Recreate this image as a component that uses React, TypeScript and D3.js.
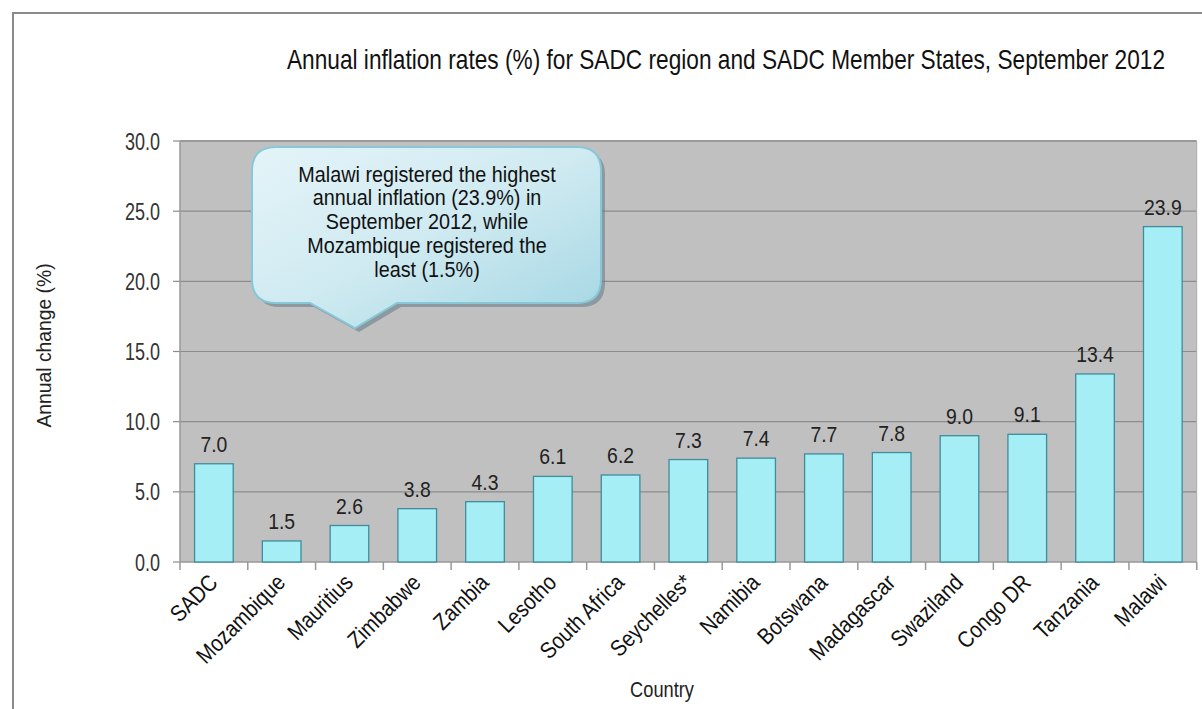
import React from "react";
import * as d3 from "d3";

const categories = ["SADC","Mozambique","Mauritius","Zimbabwe","Zambia","Lesotho","South Africa","Seychelles*","Namibia","Botswana","Madagascar","Swaziland","Congo DR","Tanzania","Malawi"];
const values = [7.0,1.5,2.6,3.8,4.3,6.1,6.2,7.3,7.4,7.7,7.8,9.0,9.1,13.4,23.9];
const yTicks = [0,5,10,15,20,25,30];
const title = "Annual inflation rates (%) for SADC region and SADC Member States, September 2012";
const calloutLines = ["Malawi registered the highest","annual inflation (23.9%) in","September 2012, while","Mozambique registered the","least (1.5%)"];

const FONT = "'Liberation Sans', Arial, sans-serif";

function NText(props: { x: number; y: number; rot?: number; sx: number; size: number; anchor?: string; fill?: string; len?: number; children: React.ReactNode }) {
  const { x, y, rot = 0, sx, size, anchor = "middle", fill = "#222", len, children } = props;
  const extra = len ? { textLength: len / sx, lengthAdjust: "spacingAndGlyphs" } : {};
  return (
    <text transform={`translate(${x},${y}) rotate(${rot}) scale(${sx},1)`} textAnchor={anchor} fontSize={size} fill={fill} {...extra}>{children}</text>
  );
}

export default function App() {
  const W = 1202, H = 709;
  const left = 180, right = 1196.7, top = 141, bottom = 562;
  const x = d3.scaleBand<string>().domain(categories).range([left, right]).paddingInner(0.43).paddingOuter(0.215);
  const xb = d3.scaleBand<string>().domain(categories).range([left, right]);
  const y = d3.scaleLinear().domain([0, 30]).range([bottom, top]);

  const cx0 = 252, cx1 = 601, cy0 = 147, cy1 = 303, r = 24;
  const tip = [355, 328];
  const calloutPath = `M${cx0 + r},${cy0} L${cx1 - r},${cy0} Q${cx1},${cy0} ${cx1},${cy0 + r} L${cx1},${cy1 - r} Q${cx1},${cy1} ${cx1 - r},${cy1} L397,${cy1} L${tip[0]},${tip[1]} L310,${cy1} L${cx0 + r},${cy1} Q${cx0},${cy1} ${cx0},${cy1 - r} L${cx0},${cy0 + r} Q${cx0},${cy0} ${cx0 + r},${cy0} Z`;

  return (
    <svg width={W} height={H} style={{ position: "absolute", left: 0, top: 0, display: "block" }} fontFamily={FONT}>
      <defs>
        <linearGradient id="cg" x1="0" y1="0" x2="1" y2="1">
          <stop offset="0" stopColor="#e4f4f8" />
          <stop offset="0.5" stopColor="#cfeaf1" />
          <stop offset="1" stopColor="#a2d6e3" />
        </linearGradient>
      </defs>
      <rect x={0} y={0} width={W} height={H} fill="#fff" />
      <path d={`M13,${H} L13,13 L${W},13`} fill="none" stroke="#8a8a8a" strokeWidth={2} />
      <NText x={287} y={69} sx={0.84} size={27} anchor="start" fill="#111" len={878}>{title}</NText>

      <rect x={left} y={top} width={right - left} height={bottom - top} fill="#c0c0c0" />
      {yTicks.map(t => (
        <g key={t}>
          {t > 0 && <line x1={left} x2={right} y1={y(t)} y2={y(t)} stroke={t === 30 ? "#9a9a9a" : "#8c8c8c"} strokeWidth={t === 30 ? 2 : 1.2} />}
          <line x1={left - 7} x2={left} y1={y(t)} y2={y(t)} stroke="#8c8c8c" strokeWidth={1.2} />
          <NText x={160} y={y(t) + 8.5} sx={0.75} size={24} anchor="end" fill="#333">{t.toFixed(1)}</NText>
        </g>
      ))}
      <line x1={left} x2={left} y1={top} y2={bottom + 8} stroke="#999" strokeWidth={1.5} />
      <line x1={left} x2={right} y1={bottom} y2={bottom} stroke="#999" strokeWidth={1.5} />
      <line x1={right} x2={right} y1={top} y2={bottom + 8} stroke="#aaa" strokeWidth={1} />
      {categories.map(c => (
        <line key={"t" + c} x1={(xb(c) as number) + xb.bandwidth()} x2={(xb(c) as number) + xb.bandwidth()} y1={bottom} y2={bottom + 8} stroke="#999" strokeWidth={1.5} />
      ))}

      {categories.map((c, i) => {
        const bx = x(c) as number;
        const cxm = bx + x.bandwidth() / 2;
        return (
          <g key={c}>
            <rect x={bx} y={y(values[i])} width={x.bandwidth()} height={bottom - y(values[i])} fill="#a6eef5" stroke="#3f8c9c" strokeWidth={1.3} />
            <NText x={cxm} y={y(values[i]) - 12} sx={0.88} size={22} fill="#222">{values[i].toFixed(1)}</NText>
            <NText x={cxm + 5} y={bottom + 22} rot={-45} sx={0.87} size={23} anchor="end" fill="#111">{c}</NText>
          </g>
        );
      })}

      <g>
        <path d={calloutPath} transform="translate(4,4)" fill="#6a7f88" opacity={0.6} />
        <path d={calloutPath} fill="url(#cg)" stroke="#86c8d8" strokeWidth={2} />
        {calloutLines.map((l, i) => (
          <NText key={i} x={427} y={181.5 + i * 23.8} sx={0.9} size={22} fill="#111">{l}</NText>
        ))}
      </g>

      <NText x={51} y={345.5} rot={-90} sx={0.92} size={21} fill="#222">Annual change (%)</NText>
      <NText x={662} y={697} sx={0.83} size={22} fill="#222">Country</NText>
    </svg>
  );
}
